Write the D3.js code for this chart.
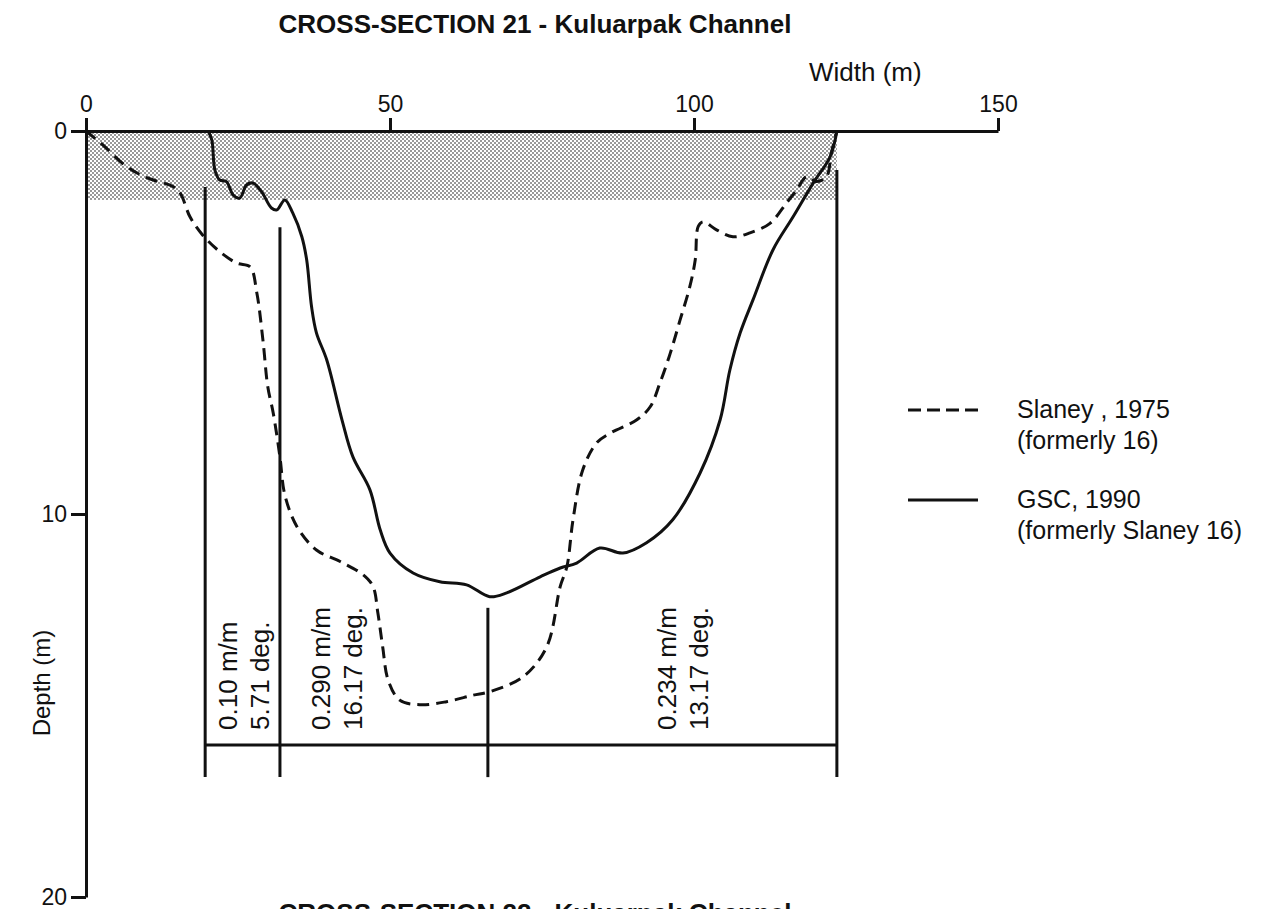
<!DOCTYPE html>
<html>
<head>
<meta charset="utf-8">
<script src="https://cdn.jsdelivr.net/npm/d3@7"></script>
<style>
  body { margin: 0; background: #fff; }
  text { font-family: "Liberation Sans", Arial, Helvetica, sans-serif; fill: #111; }
</style>
</head>
<body>
<div class="chart"></div>
<script>
// Slaney 1975 profile (dashed)
const slaneyWidth = [0, 2.8, 6.7, 10.0, 14.3, 15.5, 17.1, 19.2, 22.0, 24.8, 27.0, 28.1, 29.1, 29.9, 30.8, 31.9, 32.7, 34.7, 37.9, 41.8, 45.6, 47.2, 48.0, 48.8, 49.7, 51.6, 54.9, 59.3, 63.7, 66.4, 71.9, 75.8, 78.0, 79.1, 80.1, 81.7, 84.0, 86.2, 90.6, 92.8, 94.4, 96.1, 97.7, 99.3, 100.2, 100.7, 101.5, 103.7, 106.4, 109.2, 112.5, 115.2, 116.9, 118.5, 120.2, 121.8, 122.6, 123.5];
const slaneyDepth = [0, 0.37, 0.93, 1.22, 1.45, 1.62, 2.24, 2.72, 3.15, 3.45, 3.55, 4.23, 5.46, 6.68, 7.37, 8.51, 9.50, 10.33, 10.94, 11.24, 11.59, 11.89, 12.58, 13.47, 14.34, 14.86, 14.98, 14.90, 14.73, 14.64, 14.25, 13.46, 11.89, 11.37, 10.15, 8.85, 8.14, 7.89, 7.54, 7.20, 6.58, 5.80, 4.94, 4.07, 3.37, 2.49, 2.37, 2.58, 2.76, 2.66, 2.41, 1.88, 1.54, 1.19, 1.32, 1.19, 0.57, 0];

// GSC 1990 profile (solid)
const gscWidth = [20.1, 20.7, 21.2, 22.0, 23.1, 24.2, 25.3, 26.4, 27.5, 28.9, 30.5, 31.4, 32.7, 34.0, 35.5, 36.3, 37.1, 37.9, 39.6, 42.1, 43.9, 46.7, 48.4, 50.0, 53.8, 58.2, 62.6, 66.4, 69.2, 74.7, 78.0, 80.7, 84.5, 88.3, 92.2, 96.5, 101.0, 104.3, 105.9, 107.6, 109.7, 113.0, 116.3, 119.6, 122.4, 123.5];
const gscDepth = [0, 0.24, 1.02, 1.28, 1.32, 1.67, 1.75, 1.41, 1.36, 1.59, 2.01, 2.06, 1.80, 2.14, 2.76, 3.37, 4.59, 5.27, 5.98, 7.54, 8.51, 9.37, 10.42, 11.02, 11.54, 11.77, 11.85, 12.16, 12.06, 11.64, 11.41, 11.28, 10.89, 11.02, 10.75, 10.15, 8.93, 7.54, 6.24, 5.27, 4.41, 3.10, 2.24, 1.36, 0.67, 0];

const xTicks = [0, 50, 100, 150];
const yTicks = [0, 10, 20];

// shallow (shaded) zone
const shallowEdge = 123.5;
const shallowDepth = 1.8;

// slope measurement lines
const markerWidth = [19.6, 31.9, 66.1, 123.5];
const markerTop = [1.46, 2.51, 12.45, 1.02];
const markerBase = 16.03;
const markerBottom = 16.87;

const slopeRatio = ["0.10 m/m", "0.290 m/m", "0.234 m/m"];
const slopeAngle = ["5.71 deg.", "16.17 deg.", "13.17 deg."];
const slopeAt = [24.8, 40.1, 97.0];

const seriesNames = [["Slaney , 1975", "(formerly 16)"], ["GSC, 1990", "(formerly Slaney 16)"]];

const width = 1275;
const height = 909;
const ink = "#111";

const svg = d3.select(".chart")
    .append("svg")
    .attr("width", width)
    .attr("height", height);

const x = d3.scaleLinear().domain([0, 150]).range([86, 998]);
const y = d3.scaleLinear().domain([0, 20]).range([131, 897]);

// stipple for the shallow zone
const pat = svg.append("defs").append("pattern")
    .attr("id", "stipple")
    .attr("patternUnits", "userSpaceOnUse")
    .attr("width", 4)
    .attr("height", 4);
pat.append("rect").attr("width", 4).attr("height", 4).attr("fill", "#fff");
pat.append("rect").attr("width", 2).attr("height", 2).attr("fill", "#999");
pat.append("rect").attr("x", 2).attr("y", 2).attr("width", 2).attr("height", 2).attr("fill", "#999");

svg.append("rect")
    .attr("x", x(0))
    .attr("y", y(0))
    .attr("width", x(shallowEdge) - x(0))
    .attr("height", y(shallowDepth) - y(0))
    .attr("fill", "url(#stipple)");

// title
svg.append("text")
    .attr("x", 535)
    .attr("y", 33)
    .attr("text-anchor", "middle")
    .style("font-size", "26px")
    .style("font-weight", "bold")
    .text("CROSS-SECTION 21 - Kuluarpak Channel");

// axes
const xAxis = svg.append("g")
    .attr("transform", `translate(0, ${y(0)})`)
    .call(d3.axisTop(x).tickValues(xTicks).tickSize(13).tickSizeOuter(0).tickPadding(6));

const yAxis = svg.append("g")
    .attr("transform", `translate(${x(0)}, 0)`)
    .call(d3.axisLeft(y).tickValues(yTicks).tickSize(15).tickSizeOuter(0).tickPadding(4));

[xAxis, yAxis].forEach(g => {
    g.select(".domain").attr("stroke", ink).attr("stroke-width", 3);
    g.selectAll(".tick line").attr("stroke", ink).attr("stroke-width", 3);
    g.selectAll(".tick text")
        .attr("fill", ink)
        .style("font-size", "23px")
        .style("font-family", "'Liberation Sans', Arial, sans-serif");
});

svg.append("text")
    .attr("x", 809)
    .attr("y", 81)
    .style("font-size", "26px")
    .text("Width (m)");

svg.append("text")
    .attr("transform", "translate(50, 683) rotate(-90)")
    .attr("text-anchor", "middle")
    .style("font-size", "24px")
    .text("Depth (m)");

// profiles
const line = d3.line()
    .x(d => x(d[0]))
    .y(d => y(d[1]))
    .curve(d3.curveCatmullRom.alpha(0.5));

svg.append("path")
    .datum(d3.zip(slaneyWidth, slaneyDepth))
    .attr("d", line)
    .attr("fill", "none")
    .attr("stroke", ink)
    .attr("stroke-width", 3)
    .attr("stroke-dasharray", "12,7");

svg.append("path")
    .datum(d3.zip(gscWidth, gscDepth))
    .attr("d", line)
    .attr("fill", "none")
    .attr("stroke", ink)
    .attr("stroke-width", 3);

// slope lines
const marks = svg.append("g").attr("stroke", ink).attr("stroke-width", 3);
marks.selectAll("line.v")
    .data(markerWidth)
    .enter()
    .append("line")
    .attr("class", "v")
    .attr("x1", d => x(d))
    .attr("x2", d => x(d))
    .attr("y1", (d, i) => y(markerTop[i]))
    .attr("y2", y(markerBottom));

marks.append("line")
    .attr("x1", x(markerWidth[0]))
    .attr("x2", x(markerWidth[3]))
    .attr("y1", y(markerBase))
    .attr("y2", y(markerBase));

slopeAt.forEach((w, i) => {
    const px = x(w);
    const py = y(markerBase) - 15;
    svg.append("text")
        .attr("transform", `translate(${px}, ${py}) rotate(-90)`)
        .style("font-size", "26px")
        .text(slopeRatio[i]);
    svg.append("text")
        .attr("transform", `translate(${px + 32}, ${py}) rotate(-90)`)
        .style("font-size", "26px")
        .text(slopeAngle[i]);
});

// legend
const legend = svg.append("g").attr("transform", "translate(908, 0)");
[410, 500].forEach((ly, i) => {
    legend.append("line")
        .attr("x1", 0).attr("x2", 70)
        .attr("y1", ly).attr("y2", ly)
        .attr("stroke", ink)
        .attr("stroke-width", 3)
        .attr("stroke-dasharray", i === 0 ? "13,6" : null);
    legend.append("text")
        .attr("x", 109).attr("y", ly + 8)
        .style("font-size", "25px")
        .text(seriesNames[i][0]);
    legend.append("text")
        .attr("x", 109).attr("y", ly + 39)
        .style("font-size", "25px")
        .text(seriesNames[i][1]);
});

// next section title, cut off by the page edge as in the source page
svg.append("text")
    .attr("x", 535)
    .attr("y", 922)
    .attr("text-anchor", "middle")
    .style("font-size", "26px")
    .style("font-weight", "bold")
    .text("CROSS-SECTION 22 - Kuluarpak Channel");
</script>
</body>
</html>
